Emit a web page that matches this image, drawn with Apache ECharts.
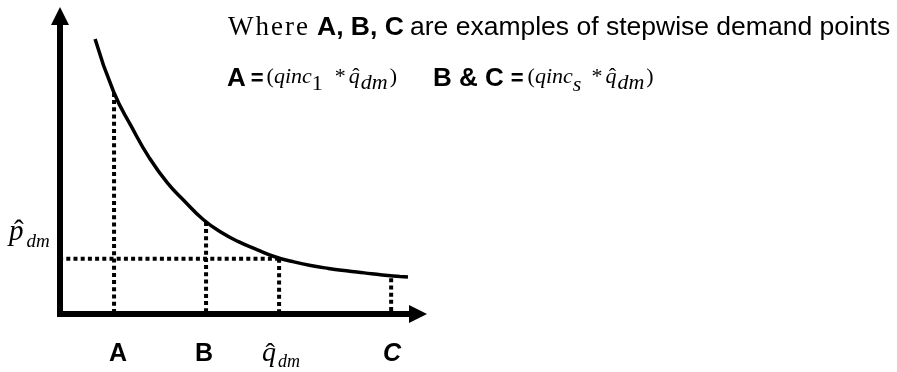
<!DOCTYPE html>
<html>
<head>
<meta charset="utf-8">
<script src="https://cdn.jsdelivr.net/npm/echarts@6/dist/echarts.min.js"></script>
<style>
  html, body { margin: 0; padding: 0; background: #fff; }
  #chart { width: 897px; height: 372px; }
</style>
</head>
<body>
<div id="chart"></div>
<script>
// Demand curve, quantity on x, price on y (axis units 0..100)
const demandQ = [9.8, 15, 20, 25, 30, 35, 40, 45, 50, 55, 60, 65, 70, 75, 80, 85, 90, 95, 97.2];
const demandP = [92.3, 74.5, 62.8, 52.3, 44.0, 37.6, 31.7, 27.4, 24.2, 21.6, 19.2, 17.6, 16.3, 15.3, 14.5, 13.8, 13.1, 12.6, 12.4];

// Stepwise demand points and their dotted drop lines
const stepNames = ['A', 'B', 'C'];
const stepQ = [15.1, 40.8, 92.5];
const stepP = [74.2, 30.9, 12.0];

// Reference quantity / price (q-hat, p-hat)
const refQ = 61.2;
const refP = 18.5;

const SANS = '"Liberation Sans", Arial, sans-serif';
const SERIF = '"Liberation Serif", "Times New Roman", serif';
// distance of the canvas 'middle' line above the alphabetic baseline, per font size
const MID = { sans: 0.3465, serif: 0.3375 };

const chart = echarts.init(document.getElementById('chart'), null, { renderer: 'canvas' });

const axisCommon = {
  type: 'value', min: 0, max: 100,
  splitLine: { show: false }, axisTick: { show: false }, axisLabel: { show: false },
  axisLine: {
    show: true,
    symbol: ['none', 'triangle'],
    symbolSize: [18, 18],
    lineStyle: { color: '#000', width: 6, cap: 'square' }
  }
};

const guideStyle = { color: '#000', width: 4, type: [4, 3.2] };
const series = [{
  type: 'line',
  data: demandQ.map((q, i) => [q, demandP[i]]),
  smooth: 0.5,
  showSymbol: false,
  silent: true,
  lineStyle: { color: '#000', width: 3.5 },
  z: 4
}];
stepQ.forEach((q, i) => series.push({
  type: 'line', data: [[q, stepP[i]], [q, 0]],
  showSymbol: false, silent: true, lineStyle: guideStyle, z: 3
}));
series.push({
  type: 'line', data: [[refQ, refP], [refQ, 0]],
  showSymbol: false, silent: true, lineStyle: guideStyle, z: 3
});
series.push({
  type: 'line', data: [[refQ, refP], [0, refP]],
  showSymbol: false, silent: true, lineStyle: guideStyle, z: 3
});

chart.setOption({
  animation: false,
  backgroundColor: '#fff',
  grid: { left: 60, right: 479, top: 16, bottom: 58, containLabel: false, outerBoundsMode: 'none' },
  xAxis: Object.assign({}, axisCommon),
  yAxis: Object.assign({}, axisCommon),
  series: series
});

// ---- text layout helpers ----
const measureCtx = document.createElement('canvas').getContext('2d');
function fontOf(size, fam, style) {
  return (style ? style + ' ' : '') + size + 'px ' + (fam === 'sans' ? SANS : SERIF);
}
function widthOf(text, f) { measureCtx.font = f; return measureCtx.measureText(text).width; }
function textEl(x, baseline, text, size, fam, style, align) {
  return {
    type: 'text', x: x, y: baseline - MID[fam] * size, silent: true, z: 10,
    style: {
      text: text, font: fontOf(size, fam, style), fill: '#000',
      textAlign: align || 'left', textVerticalAlign: 'middle',
      align: align || 'left', verticalAlign: 'middle'
    }
  };
}
// lays pieces left to right from x0; each piece may shift its baseline (sub/superscript)
function flow(x0, baseline, pieces, out) {
  let x = x0;
  pieces.forEach(p => {
    if (p.x != null) x = p.x;
    x += p.gap || 0;
    const fam = p.fam || 'serif';
    const f = fontOf(p.size, fam, p.style);
    const chars = p.spacing ? p.t.split('') : [p.t];
    chars.forEach(ch => {
      const w = widthOf(ch, f);
      const b = baseline + (p.dy || 0);
      out.push(textEl(x, b, ch, p.size, fam, p.style));
      if (p.hat != null) {
        out.push(textEl(x + w / 2 + p.hat, b + (p.hatDy || 0), 'ˆ', p.size, 'serif', '', 'center'));
      }
      x += w + (p.spacing || 0);
    });
  });
  return x;
}

// small horizontal nudges of the step letters relative to their drop lines
const stepLabelDx = [4, -2, 1];

function buildText() {
  const els = [];
  // heading
  flow(228, 37, [
    { t: 'Where', size: 27, fam: 'serif', spacing: 2 },
    { t: 'A, B, C', size: 26.5, fam: 'sans', style: 'bold', x: 317 },
    { t: 'are examples of stepwise demand points', size: 26.5, fam: 'sans', x: 410 }
  ], els);

  // definitions
  flow(227, 88, [
    { t: 'A', fam: 'sans', style: 'bold', size: 26 },
    { t: '=', fam: 'sans', style: 'bold', size: 22, gap: 5, dy: -1 },
    { t: '(', size: 22, gap: 3, dy: -3 },
    { t: 'qinc', style: 'italic', size: 22, dy: -3 },
    { t: '1', size: 22, dy: 4 },
    { t: '*', size: 22, gap: 12, dy: -3 },
    { t: 'q', style: 'italic', size: 22, gap: 3, dy: -3, hat: 1.5 },
    { t: 'dm', style: 'italic', size: 22, gap: 1, dy: 3 },
    { t: ')', size: 22, gap: 2, dy: -3 }
  ], els);
  flow(433, 88, [
    { t: 'B & C', fam: 'sans', style: 'bold', size: 26 },
    { t: '=', fam: 'sans', style: 'bold', size: 22, gap: 7, dy: -1 },
    { t: '(', size: 22, gap: 4, dy: -3 },
    { t: 'qinc', style: 'italic', size: 22, dy: -3 },
    { t: 's', style: 'italic', size: 22, dy: 5 },
    { t: '*', size: 22, gap: 10, dy: -3 },
    { t: 'q', style: 'italic', size: 22, gap: 3, dy: -3, hat: 1.5 },
    { t: 'dm', style: 'italic', size: 22, gap: 1, dy: 3 },
    { t: ')', size: 22, gap: 2, dy: -3 }
  ], els);

  // step labels under the quantity axis
  const axisY = chart.convertToPixel({ gridIndex: 0 }, [0, 0])[1];
  stepQ.forEach((q, i) => {
    const px = chart.convertToPixel({ gridIndex: 0 }, [q, 0])[0];
    els.push(textEl(px + stepLabelDx[i], axisY + 49, stepNames[i], 25, 'sans', i === 2 ? 'italic bold' : 'bold', 'center'));
  });

  // q-hat label under the axis
  const qx = chart.convertToPixel({ gridIndex: 0 }, [refQ, 0])[0];
  flow(qx - 17, axisY + 49, [
    { t: 'q', style: 'italic', size: 28, hat: 1, hatDy: 1 },
    { t: 'dm', style: 'italic', size: 18, gap: 2, dy: 5 }
  ], els);

  // p-hat label left of the price axis
  const py = chart.convertToPixel({ gridIndex: 0 }, [0, refP])[1];
  flow(9, py - 17, [
    { t: 'p', style: 'italic', size: 29, hat: 2.5, hatDy: 0 },
    { t: 'dm', style: 'italic', size: 19, gap: 3, dy: 7 }
  ], els);

  return els;
}

chart.setOption({ graphic: { elements: buildText() } });
</script>
</body>
</html>
